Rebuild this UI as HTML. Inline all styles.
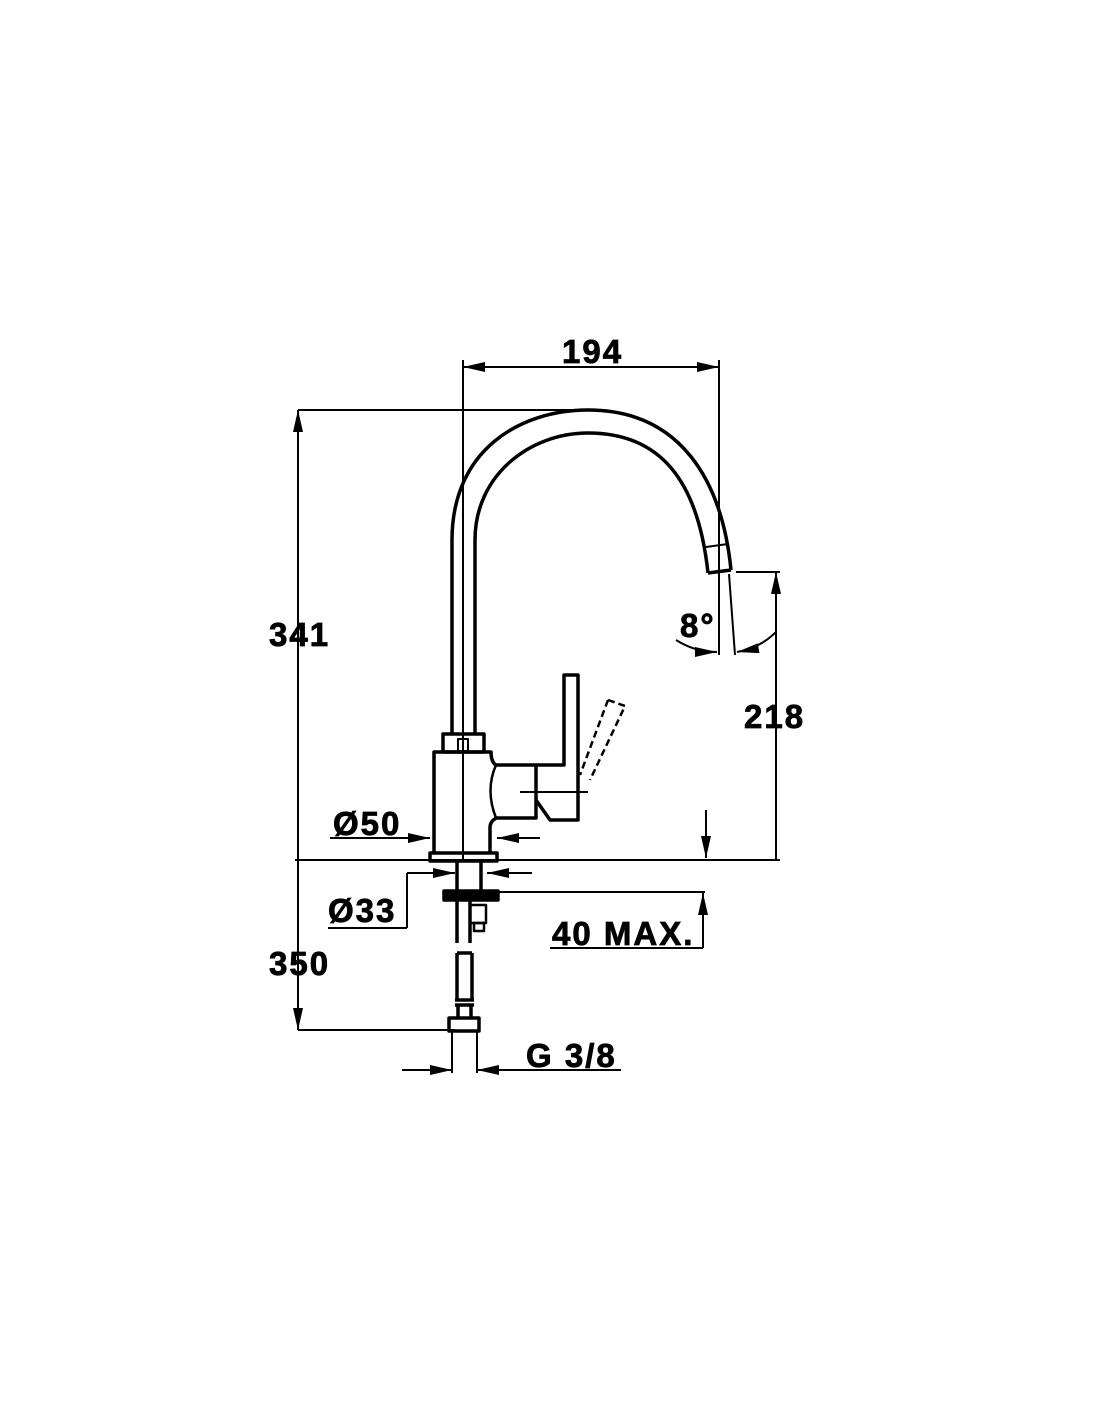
<!DOCTYPE html>
<html><head><meta charset="utf-8"><style>
html,body{margin:0;padding:0;background:#fff}
svg{display:block}
text{font-family:"Liberation Sans",Arial,sans-serif;font-weight:bold;font-size:33px;letter-spacing:2px;fill:#000;stroke:#000;stroke-width:0.8}
</style></head><body>
<svg width="1100" height="1422" viewBox="0 0 1100 1422" xmlns="http://www.w3.org/2000/svg">
<defs>
<marker id="a" markerWidth="22" markerHeight="10" refX="22" refY="5" orient="auto-start-reverse" markerUnits="userSpaceOnUse">
<path d="M0,0 L22,5 L0,10 z" fill="#000"/></marker>
</defs>
<g stroke="#000" fill="none">
<g stroke-width="2">
<line x1="463" y1="360" x2="463" y2="860"/>
<line x1="719" y1="360" x2="719" y2="655"/>
<line x1="463" y1="367" x2="719" y2="367" marker-start="url(#a)" marker-end="url(#a)"/>
<line x1="298" y1="410" x2="590" y2="410"/>
<line x1="298" y1="860" x2="298" y2="410" marker-end="url(#a)"/>
<line x1="298" y1="860" x2="298" y2="1030" marker-end="url(#a)"/>
<line x1="295" y1="860" x2="780" y2="860"/>
<line x1="736" y1="572" x2="780" y2="572"/>
<line x1="776" y1="860" x2="776" y2="572" marker-end="url(#a)"/>
<line x1="729" y1="574" x2="735" y2="655"/>
<path d="M676,640 Q695,652 717,652" marker-end="url(#a)"/>
<path d="M776,632 Q760,648 737,652" marker-end="url(#a)"/>
<line x1="706" y1="810" x2="706" y2="858" marker-end="url(#a)"/>
<line x1="330" y1="838" x2="430" y2="838" marker-end="url(#a)"/>
<line x1="540" y1="838" x2="497" y2="838" marker-end="url(#a)"/>
<line x1="328" y1="928" x2="407" y2="928"/>
<line x1="407" y1="928" x2="407" y2="873"/>
<line x1="407" y1="873" x2="455" y2="873" marker-end="url(#a)"/>
<line x1="532" y1="873" x2="487" y2="873" marker-end="url(#a)"/>
<line x1="495" y1="892" x2="705" y2="892"/>
<line x1="703" y1="948" x2="703" y2="893" marker-end="url(#a)"/>
<line x1="550" y1="948" x2="703" y2="948"/>
<line x1="298" y1="1030" x2="455" y2="1030"/>
<line x1="452" y1="1030" x2="452" y2="1073"/>
<line x1="477" y1="1030" x2="477" y2="1073"/>
<line x1="402" y1="1070" x2="452" y2="1070" marker-end="url(#a)"/>
<line x1="621" y1="1070" x2="477" y2="1070" marker-end="url(#a)"/>
<line x1="520" y1="792" x2="588" y2="792"/>
</g>
<g stroke-width="3.5" stroke-linejoin="round">
<path d="M452,735 L452,540 C452,450 520,410 588,410 C680,410 722,480 731,570"/>
<path d="M475,735 L475,540 C475,475 530,433 588,433 C660,433 698,480 708,573"/>
<path d="M708,573 L731,570"/>
<path d="M706,547 L728,544" stroke-width="2"/>
<rect x="443" y="734" width="41" height="18"/>
<rect x="458" y="739" width="10" height="12" stroke-width="2"/>
<path d="M434,853 L434,752 L491,752 Q491,762 496,765 L536,765 L536,818 L496,818 Q490,822 490,827 L490,853"/>
<path d="M496,765 Q485,790 496,818" stroke-width="2.5"/>
<path d="M536,765 L564,765 L564,675 L578,675 L578,765 L578,820 L550,820 L536,800"/>
<rect x="430" y="853" width="67" height="8"/>
<path d="M608,700 L625,706 L590,780" stroke-dasharray="7,4" stroke-width="2.5"/>
<path d="M608,700 L580,775" stroke-dasharray="7,4" stroke-width="2.5"/>
<path d="M457,861 L457,943 M481,861 L481,893"/>
<rect x="444" y="891" width="54" height="9" fill="#000"/>
<rect x="470" y="905" width="16" height="18" stroke-width="2.5"/>
<rect x="474" y="923" width="10" height="8" stroke-width="2.5"/>
<path d="M470,900 L470,943"/>
<path d="M457,953 L457,1000 M472,953 L472,1000 M457,953 L472,953"/>
<path d="M455,1000 L474,1000 M455,1005 L474,1005 M458,1005 L458,1018 M471,1005 L471,1018"/>
<rect x="449" y="1018" width="30" height="13"/>
</g>
</g>
<text x="562" y="363">194</text>
<text x="269" y="646">341</text>
<text x="680" y="637">8°</text>
<text x="744" y="728">218</text>
<text x="333" y="835">Ø50</text>
<text x="328" y="922">Ø33</text>
<text x="552" y="945">40 MAX.</text>
<text x="269" y="975">350</text>
<text x="526" y="1067">G 3/8</text>
</svg>
</body></html>
